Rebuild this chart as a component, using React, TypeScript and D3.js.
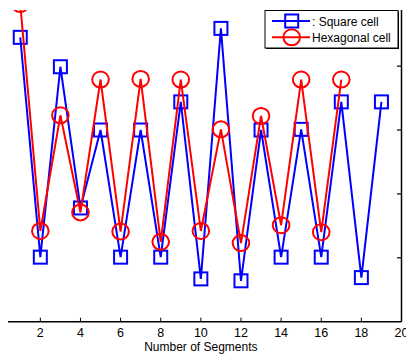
import React from "react";
import * as d3 from "d3";

const squareX = [1, 2, 3, 4, 5, 6, 7, 8, 9, 10, 11, 12, 13, 14, 15, 16, 17, 18, 19];
const squareY = [4.45, 1.01, 3.99, 1.78, 3.0, 1.01, 3.0, 1.01, 3.44, 0.67, 4.59, 0.64, 3.0, 1.01, 3.01, 1.01, 3.44, 0.69, 3.44];
const hexX = [1, 2, 3, 4, 5, 6, 7, 8, 9, 10, 11, 12, 13, 14, 15, 16, 17];
const hexY = [4.97, 1.42, 3.23, 1.71, 3.79, 1.41, 3.8, 1.25, 3.79, 1.42, 3.01, 1.23, 3.22, 1.51, 3.79, 1.4, 3.79];
const xTicks = [2, 4, 6, 8, 10, 12, 14, 16, 18, 20];
const yTicks = [1, 2, 3, 4];
const legendLabels = [": Square cell", "Hexagonal cell"];
const xLabel = "Number of Segments";

const W = 406;
const H = 356;
const FONT = "'Liberation Sans', Arial, sans-serif";

export default function App() {
  const x = d3.scaleLinear().domain([0, 20]).range([0.2, 401.5]);
  const y = d3.scaleLinear().domain([0, 5]).range([321.7, 2.2]);
  const plotTop = 10;
  const plotBottom = y(0);
  const plotRight = x(20);

  const sq = squareX.map((v, i) => [v, squareY[i]] as [number, number]);
  const hx = hexX.map((v, i) => [v, hexY[i]] as [number, number]);
  const line = d3
    .line<[number, number]>()
    .x((d) => x(d[0]))
    .y((d) => y(d[1]));

  const S = 13; // square side
  const R = 8; // circle radius

  const legX0 = 265;
  const legY0 = 10.5;
  const legW = 133;
  const legH = 37.5;
  const rowY = [21, 37.3];

  return (
    <svg
      width={W}
      height={H}
      style={{ position: "fixed", left: 0, top: 0, background: "#fff" }}
    >
      <defs>
        <clipPath id="plotClip">
          <rect x={0} y={plotTop} width={plotRight} height={plotBottom - plotTop + 8} />
        </clipPath>
      </defs>
      <rect x={0} y={0} width={W} height={H} fill="#fff" />

      {/* axes */}
      <line x1={8} x2={plotRight} y1={plotBottom} y2={plotBottom} stroke="#000" strokeWidth={1.5} />
      <line x1={plotRight} x2={plotRight} y1={plotTop} y2={plotBottom} stroke="#000" strokeWidth={1.5} />
      {xTicks.map((t) => (
        <g key={"xt" + t}>
          {t < 20 && (
            <line x1={x(t)} x2={x(t)} y1={plotBottom - 4} y2={plotBottom} stroke="#000" strokeWidth={1} />
          )}
          <text
            x={x(t)}
            y={337}
            textAnchor="middle"
            fontFamily={FONT}
            fontSize={12.5}
            fill="#000"
          >
            {t}
          </text>
        </g>
      ))}
      {yTicks.map((t) => (
        <line
          key={"yt" + t}
          x1={plotRight - 4.5}
          x2={plotRight}
          y1={y(t)}
          y2={y(t)}
          stroke="#000"
          strokeWidth={1.2}
        />
      ))}
      <text x={x(10)} y={350.5} textAnchor="middle" fontFamily={FONT} fontSize={12} fill="#000">
        {xLabel}
      </text>

      {/* data */}
      <g clipPath="url(#plotClip)">
        <path d={line(sq) || ""} fill="none" stroke="#0000ff" strokeWidth={2} />
        {sq.map((d, i) => (
          <rect
            key={"s" + i}
            x={x(d[0]) - S / 2}
            y={y(d[1]) - S / 2}
            width={S}
            height={S}
            fill="none"
            stroke="#0000ff"
            strokeWidth={2}
          />
        ))}
        <path d={line(hx) || ""} fill="none" stroke="#ff0000" strokeWidth={2} />
        {hx.map((d, i) => (
          <ellipse
            key={"c" + i}
            cx={x(d[0])}
            cy={y(d[1])}
            rx={R + 0.3}
            ry={R}
            fill="none"
            stroke="#ff0000"
            strokeWidth={2}
          />
        ))}
      </g>

      {/* legend */}
      <rect x={legX0 + 1} y={legY0 + 1} width={legW} height={legH} fill="#000" />
      <rect x={legX0} y={legY0} width={legW} height={legH} fill="#fff" stroke="#000" strokeWidth={1} />
      <line x1={272} x2={310} y1={rowY[0]} y2={rowY[0]} stroke="#0000ff" strokeWidth={2} />
      <rect x={291.7 - S / 2} y={rowY[0] - S / 2} width={S} height={S} fill="#fff" fillOpacity={0} stroke="#0000ff" strokeWidth={2} />
      <line x1={272} x2={310} y1={rowY[1]} y2={rowY[1]} stroke="#ff0000" strokeWidth={2} />
      <ellipse cx={291.7} cy={rowY[1]} rx={R + 0.3} ry={R} fill="none" stroke="#ff0000" strokeWidth={2} />
      <text x={312} y={rowY[0] + 4.5} fontFamily={FONT} fontSize={12} fill="#000">
        {legendLabels[0]}
      </text>
      <text x={312} y={rowY[1] + 4.5} fontFamily={FONT} fontSize={12} fill="#000">
        {legendLabels[1]}
      </text>
    </svg>
  );
}
